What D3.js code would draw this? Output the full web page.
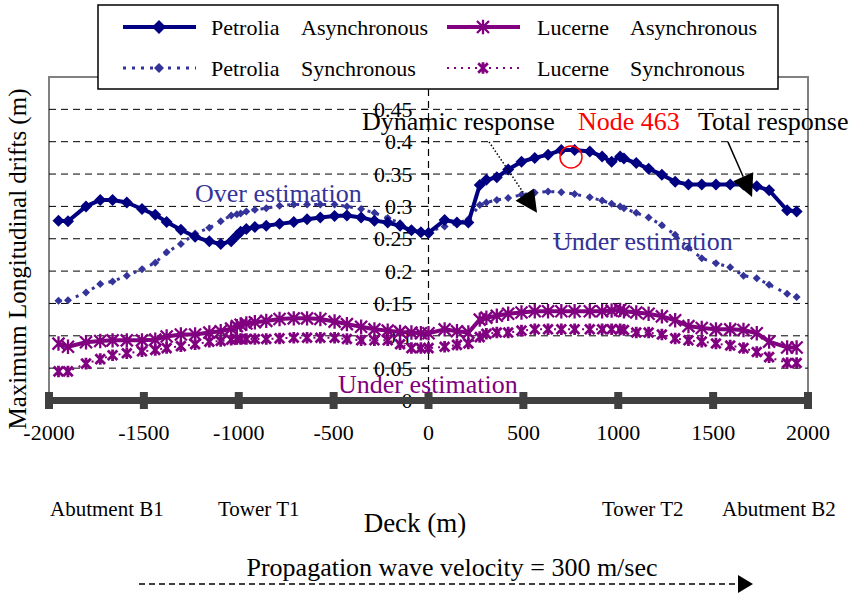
<!DOCTYPE html>
<html lang="en">
<head>
    <meta charset="UTF-8">
    <title>Maximum Longitudinal drifts</title>
    <script src="https://d3js.org/d3.v7.min.js"></script>
    <style>
        body {
            margin: 0;
            background: #fff;
        }
        text {
            font-family: 'Liberation Serif', 'Times New Roman', serif;
        }
    </style>
</head>
<body>
    <svg id="chart"></svg>

    <script>
        // Deck positions (m) of the plotted nodes
        const deckX = [-1950, -1900, -1805, -1730, -1665, -1590, -1510, -1440, -1380, -1305,
            -1230, -1155, -1095, -1040, -1010, -990, -960, -915, -855, -785,
            -710, -640, -570, -495, -430, -355, -285, -215, -150, -90,
            -40, 0, 85, 150, 210, 270, 305, 360, 420, 490,
            560, 630, 700, 770, 850, 915, 965, 1010, 1030, 1095,
            1160, 1230, 1300, 1370, 1440, 1515, 1590, 1660, 1730, 1795,
            1890, 1940];

        const petroliaAsync = [0.278, 0.277, 0.300, 0.310, 0.310, 0.306, 0.296, 0.287, 0.276, 0.264,
            0.253, 0.246, 0.242, 0.246, 0.255, 0.261, 0.265, 0.268, 0.270, 0.273,
            0.276, 0.280, 0.283, 0.285, 0.286, 0.283, 0.278, 0.275, 0.270, 0.263,
            0.260, 0.259, 0.279, 0.275, 0.275, 0.333, 0.341, 0.345, 0.357, 0.369,
            0.375, 0.380, 0.387, 0.387, 0.385, 0.377, 0.369, 0.377, 0.374, 0.367,
            0.358, 0.349, 0.338, 0.334, 0.334, 0.334, 0.334, 0.334, 0.331, 0.325,
            0.294, 0.292];

        const petroliaSync = [0.154, 0.155, 0.167, 0.180, 0.184, 0.193, 0.203, 0.213, 0.229, 0.242,
            0.258, 0.267, 0.277, 0.286, 0.288, 0.289, 0.292, 0.295, 0.297, 0.301,
            0.303, 0.303, 0.303, 0.303, 0.300, 0.296, 0.290, 0.282, 0.274, 0.265,
            0.262, 0.261, 0.269, 0.274, 0.280, 0.302, 0.306, 0.310, 0.313, 0.318,
            0.321, 0.323, 0.322, 0.319, 0.314, 0.309, 0.304, 0.300, 0.297, 0.290,
            0.283, 0.271, 0.256, 0.236, 0.220, 0.212, 0.206, 0.193, 0.189, 0.179,
            0.165, 0.160];

        const lucerneAsync = [0.088, 0.083, 0.090, 0.092, 0.093, 0.093, 0.093, 0.094, 0.099, 0.102,
            0.102, 0.105, 0.107, 0.111, 0.115, 0.117, 0.119, 0.121, 0.123, 0.126,
            0.127, 0.127, 0.126, 0.122, 0.118, 0.114, 0.110, 0.108, 0.106, 0.105,
            0.104, 0.104, 0.110, 0.107, 0.105, 0.125, 0.128, 0.131, 0.134, 0.136,
            0.138, 0.138, 0.138, 0.138, 0.138, 0.138, 0.139, 0.140, 0.138, 0.136,
            0.134, 0.130, 0.124, 0.115, 0.112, 0.110, 0.110, 0.109, 0.104, 0.091,
            0.082, 0.082];

        const lucerneSync = [0.045, 0.045, 0.057, 0.064, 0.070, 0.073, 0.076, 0.078, 0.081, 0.084,
            0.087, 0.091, 0.092, 0.094, 0.095, 0.095, 0.095, 0.095, 0.095, 0.096,
            0.097, 0.097, 0.097, 0.097, 0.095, 0.093, 0.093, 0.093, 0.087, 0.081,
            0.081, 0.081, 0.083, 0.086, 0.088, 0.098, 0.103, 0.105, 0.105, 0.108,
            0.110, 0.110, 0.110, 0.110, 0.110, 0.110, 0.110, 0.110, 0.109, 0.105,
            0.105, 0.102, 0.096, 0.093, 0.091, 0.088, 0.085, 0.081, 0.075, 0.067,
            0.058, 0.058];

        const xTicks = [-2000, -1500, -1000, -500, 0, 500, 1000, 1500, 2000];
        const yTicks = [0, 0.05, 0.1, 0.15, 0.2, 0.25, 0.3, 0.35, 0.4, 0.45];
        const yTickLabels = ["0", "0.05", "0.1", "0.15", "0.2", "0.25", "0.3", "0.35", "0.4", "0.45"];

        const width = 858, height = 595;
        const svg = d3.select("#chart").attr("width", width).attr("height", height);

        const x = d3.scaleLinear().domain([-2000, 2000]).range([49, 808]);
        const y = d3.scaleLinear().domain([0, 0.5]).range([400.5, 77]);

        // plot frame (gray)
        svg.append("rect")
            .attr("x", x(-2000)).attr("y", y(0.5))
            .attr("width", x(2000) - x(-2000)).attr("height", y(0) - y(0.5))
            .attr("fill", "none").attr("stroke", "#808080").attr("stroke-width", 2);

        // dashed grid lines
        svg.append("g")
            .selectAll("line")
            .data(yTicks.filter(d => d > 0))
            .join("line")
            .attr("x1", x(-2000)).attr("x2", x(2000))
            .attr("y1", d => y(d)).attr("y2", d => y(d))
            .attr("stroke", "#000").attr("stroke-width", 1)
            .attr("stroke-dasharray", "7,5");

        // y axis sits at deck = 0 (dashed)
        svg.append("line")
            .attr("x1", x(0)).attr("x2", x(0))
            .attr("y1", y(0.5)).attr("y2", y(0))
            .attr("stroke", "#000").attr("stroke-width", 1.2)
            .attr("stroke-dasharray", "7,5");

        // y ticks and labels
        const yAxis = svg.append("g");
        yAxis.selectAll("line")
            .data(yTicks)
            .join("line")
            .attr("x1", x(0) - 7).attr("x2", x(0))
            .attr("y1", d => y(d)).attr("y2", d => y(d))
            .attr("stroke", "#000");
        yAxis.selectAll("text")
            .data(yTicks)
            .join("text")
            .attr("x", x(0) - 16)
            .attr("y", d => y(d))
            .attr("dy", "0.35em")
            .attr("text-anchor", "end")
            .attr("font-size", 22)
            .text((d, i) => yTickLabels[i]);

        // series
        const markerDiamond = s => `M0,${-s}L${s},0L0,${s}L${-s},0Z`;
        const markerStar = s => `M${-s},${-s}L${s},${s}M${-s},${s}L${s},${-s}M0,${-s * 1.2}L0,${s * 1.2}`;

        const series = [
            { name: "Lucerne Synchronous", values: lucerneSync, color: "#800080", width: 2, dash: "2,5", shape: "star", size: 4.8, mw: 2.8 },
            { name: "Lucerne Asynchronous", values: lucerneAsync, color: "#800080", width: 4, dash: null, shape: "star", size: 6, mw: 2.3 },
            { name: "Petrolia Synchronous", values: petroliaSync, color: "#333399", width: 3, dash: "3,6", shape: "diamond", size: 4, mw: 0 },
            { name: "Petrolia Asynchronous", values: petroliaAsync, color: "#000080", width: 4, dash: null, shape: "diamond", size: 6, mw: 0 }
        ];

        const line = d3.line().x(d => x(d[0])).y(d => y(d[1]));

        series.forEach(s => {
            const pts = deckX.map((d, i) => [d, s.values[i]]);
            const g = svg.append("g");
            g.append("path")
                .datum(pts)
                .attr("d", line)
                .attr("fill", "none")
                .attr("stroke", s.color)
                .attr("stroke-width", s.width)
                .attr("stroke-dasharray", s.dash)
                .attr("stroke-linejoin", "round");
            g.selectAll(".m")
                .data(pts)
                .join("path")
                .attr("class", "m")
                .attr("transform", d => `translate(${x(d[0])},${y(d[1])})`)
                .attr("d", s.shape === "diamond" ? markerDiamond(s.size) : markerStar(s.size))
                .attr("fill", s.shape === "diamond" ? s.color : "none")
                .attr("stroke", s.color)
                .attr("stroke-width", s.mw);
        });

        // thick x axis with block ticks
        svg.append("line")
            .attr("x1", x(-2000)).attr("x2", x(2000))
            .attr("y1", y(0)).attr("y2", y(0))
            .attr("stroke", "#404040").attr("stroke-width", 7);
        svg.append("g")
            .selectAll("rect")
            .data(xTicks)
            .join("rect")
            .attr("x", d => x(d) - 4).attr("y", y(0) - 8.5)
            .attr("width", 8).attr("height", 17)
            .attr("fill", "#404040");
        svg.append("g")
            .selectAll("text")
            .data(xTicks)
            .join("text")
            .attr("x", d => x(d))
            .attr("y", 440)
            .attr("text-anchor", "middle")
            .attr("font-size", 22)
            .text(d => d);

        // axis titles
        svg.append("text")
            .attr("transform", "translate(26,259) rotate(-90)")
            .attr("text-anchor", "middle")
            .attr("font-size", 25)
            .text("Maximum Longitudinal drifts (m)");
        svg.append("text")
            .attr("x", 415).attr("y", 532)
            .attr("text-anchor", "middle")
            .attr("font-size", 27)
            .text("Deck (m)");

        // structure labels under the deck
        const places = [
            { t: "Abutment B1", px: 50 },
            { t: "Tower T1", px: 218 },
            { t: "Tower T2", px: 602 },
            { t: "Abutment B2", px: 722 }
        ];
        svg.append("g")
            .selectAll("text")
            .data(places)
            .join("text")
            .attr("x", d => d.px).attr("y", 516)
            .attr("font-size", 21)
            .text(d => d.t);

        // annotations
        function arrow(x1, y1, x2, y2, dash) {
            const dx = x2 - x1, dy = y2 - y1, len = Math.hypot(dx, dy);
            const ux = dx / len, uy = dy / len, L = 22, W = 11;
            const bx = x2 - ux * L, by = y2 - uy * L;
            svg.append("line")
                .attr("x1", x1).attr("y1", y1).attr("x2", bx).attr("y2", by)
                .attr("stroke", "#000").attr("stroke-width", 1.5)
                .attr("stroke-dasharray", dash);
            svg.append("path")
                .attr("d", `M${x2},${y2}L${bx - uy * W},${by + ux * W}L${bx + uy * W},${by - ux * W}Z`)
                .attr("fill", "#000");
        }

        const notes = [
            { t: "Dynamic response", x: 362, y: 130, c: "#000", s: 26 },
            { t: "Node 463", x: 578, y: 130, c: "#ff0000", s: 26 },
            { t: "Total response", x: 698, y: 130, c: "#000", s: 26 },
            { t: "Over estimation", x: 195, y: 202, c: "#333399", s: 26 },
            { t: "Under estimation", x: 553, y: 250, c: "#333399", s: 26 },
            { t: "Under estimation", x: 338, y: 393, c: "#800080", s: 26 }
        ];
        svg.append("g")
            .selectAll("text")
            .data(notes)
            .join("text")
            .attr("x", d => d.x).attr("y", d => d.y)
            .attr("fill", d => d.c)
            .attr("font-size", d => d.s)
            .text(d => d.t);

        svg.append("circle")
            .attr("cx", x(751)).attr("cy", y(0.3765)).attr("r", 11)
            .attr("fill", "none").attr("stroke", "#ff0000").attr("stroke-width", 1.5);

        arrow(x(319), y(0.3997), x(572), y(0.290), "1.5,2");
        arrow(x(1578), y(0.3997), x(1705), y(0.3147), null);

        // legend
        const legend = svg.append("g");
        legend.append("rect")
            .attr("x", 98).attr("y", 5).attr("width", 680).attr("height", 84)
            .attr("fill", "#fff").attr("stroke", "#000").attr("stroke-width", 1.5);
        const legendItems = [
            { s: series[3], lx: 123, ty: 27, a: "Petrolia", b: "Asynchronous", tx: 211, tb: 301 },
            { s: series[1], lx: 447, ty: 27, a: "Lucerne", b: "Asynchronous", tx: 537, tb: 630 },
            { s: series[2], lx: 123, ty: 68, a: "Petrolia", b: "Synchronous", tx: 211, tb: 301 },
            { s: series[0], lx: 447, ty: 68, a: "Lucerne", b: "Synchronous", tx: 537, tb: 630 }
        ];
        legendItems.forEach(d => {
            legend.append("line")
                .attr("x1", d.lx).attr("x2", d.lx + 73)
                .attr("y1", d.ty).attr("y2", d.ty)
                .attr("stroke", d.s.color).attr("stroke-width", d.s.width)
                .attr("stroke-dasharray", d.s.dash);
            legend.append("path")
                .attr("transform", `translate(${d.lx + 36},${d.ty})`)
                .attr("d", d.s.shape === "diamond" ? markerDiamond(d.s.size + 1) : markerStar(d.s.size))
                .attr("fill", d.s.shape === "diamond" ? d.s.color : "none")
                .attr("stroke", d.s.color).attr("stroke-width", d.s.mw);
            legend.append("text").attr("x", d.tx).attr("y", d.ty).attr("dy", "0.35em")
                .attr("font-size", 22).text(d.a);
            legend.append("text").attr("x", d.tb).attr("y", d.ty).attr("dy", "0.35em")
                .attr("font-size", 22).text(d.b);
        });

        // propagation arrow at the bottom
        svg.append("text")
            .attr("x", 452).attr("y", 576)
            .attr("text-anchor", "middle")
            .attr("font-size", 26)
            .text("Propagation wave velocity = 300 m/sec");
        svg.append("line")
            .attr("x1", 139).attr("x2", 738).attr("y1", 584).attr("y2", 584)
            .attr("stroke", "#000").attr("stroke-width", 1.5)
            .attr("stroke-dasharray", "6,4");
        svg.append("path")
            .attr("d", "M738,575L753,584L738,593Z")
            .attr("fill", "#000");
    </script>
</body>
</html>
